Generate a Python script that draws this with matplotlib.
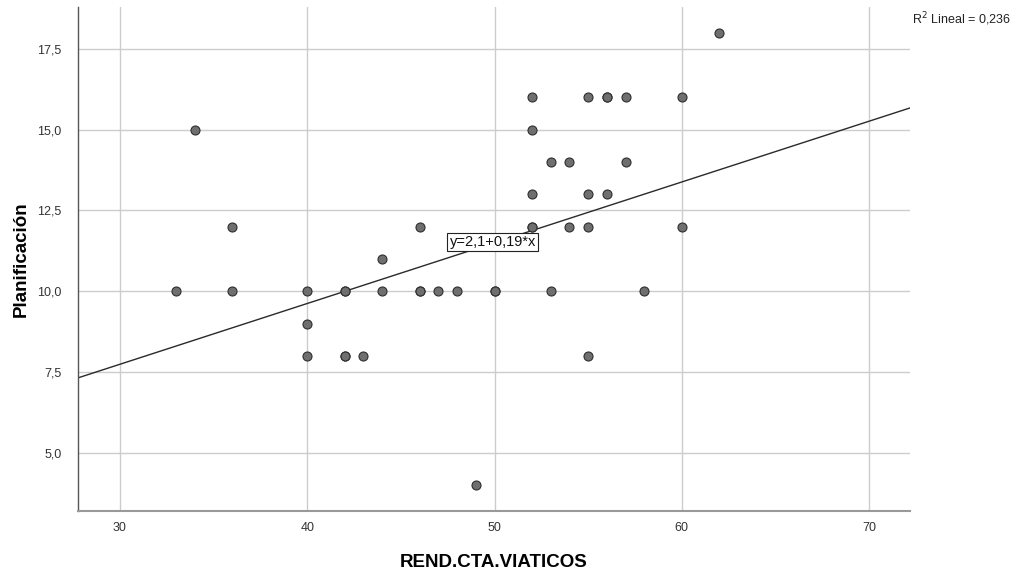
import matplotlib.pyplot as plt
from matplotlib.ticker import FuncFormatter
import numpy as np

plt.rcParams['font.family'] = ['Liberation Sans', 'DejaVu Sans']

# --- Datos ---
rend_cta = [34, 33, 36, 36, 40, 40, 40, 42, 42, 42, 42, 43, 44, 44, 46, 46, 46,
            47, 48, 49, 50, 50, 52, 52, 52, 52, 52, 53, 53, 54, 54, 55, 55, 55,
            55, 56, 56, 56, 57, 57, 58, 60, 60, 62]
planif = [15, 10, 12, 10, 10, 9, 8, 10, 10, 8, 8, 8, 11, 10, 12, 10, 10,
          10, 10, 4, 10, 10, 16, 15, 13, 12, 12, 14, 10, 14, 12, 16, 13, 12,
          8, 16, 16, 13, 16, 14, 10, 16, 12, 18]

intercepto = 2.1
pendiente = 0.188
r2 = 0.236

x_ticks = [30, 40, 50, 60, 70]
y_ticks = [5.0, 7.5, 10.0, 12.5, 15.0, 17.5]

# --- Figura ---
fig = plt.figure(figsize=(10.13, 5.70), dpi=100)
ax = fig.add_axes([0.077, 0.1035, 0.8215, 0.8835])

xlim = (27.76, 72.19)
ylim = (3.2, 18.78)
ax.set_xlim(xlim)
ax.set_ylim(ylim)

ax.scatter(rend_cta, planif, s=42, facecolor='#6f6f6f', edgecolor='#2e2e2e',
           linewidth=0.8, zorder=3)

xx = np.array(xlim)
ax.plot(xx, intercepto + pendiente * xx, color='#2a2a2a', linewidth=1.0, zorder=2)

ax.text(49.9, 11.53, "y=2,1+0,19*x", ha='center', va='center', fontsize=10.5,
        color='#111111', zorder=4,
        bbox=dict(boxstyle='square,pad=0.15', facecolor='white', edgecolor='#222222', linewidth=0.8))

fig.text(0.9, 0.958, f"R$^2$ Lineal = {r2:.3f}".replace('.', ','), fontsize=9, color='#222222')

ax.set_xticks(x_ticks)
ax.set_yticks(y_ticks)
ax.yaxis.set_major_formatter(FuncFormatter(lambda v, p: f"{v:.1f}".replace('.', ',')))
ax.tick_params(length=0, labelsize=9, colors='#333333')
ax.tick_params(axis='x', pad=8)
ax.tick_params(axis='y', pad=12)

ax.grid(True, color='#cccccc', linewidth=1.0)
ax.set_axisbelow(True)

ax.spines['top'].set_visible(False)
ax.spines['right'].set_visible(False)
ax.spines['left'].set_color('#555555')
ax.spines['bottom'].set_color('#999999')
ax.spines['left'].set_linewidth(1.0)
ax.spines['bottom'].set_linewidth(1.5)

ax.set_xlabel("REND.CTA.VIATICOS", fontsize=13.5, fontweight='bold', labelpad=14)
ax.set_ylabel("Planificación", fontsize=13.5, fontweight='bold', labelpad=5)

fig.savefig("out.png", dpi=100)
